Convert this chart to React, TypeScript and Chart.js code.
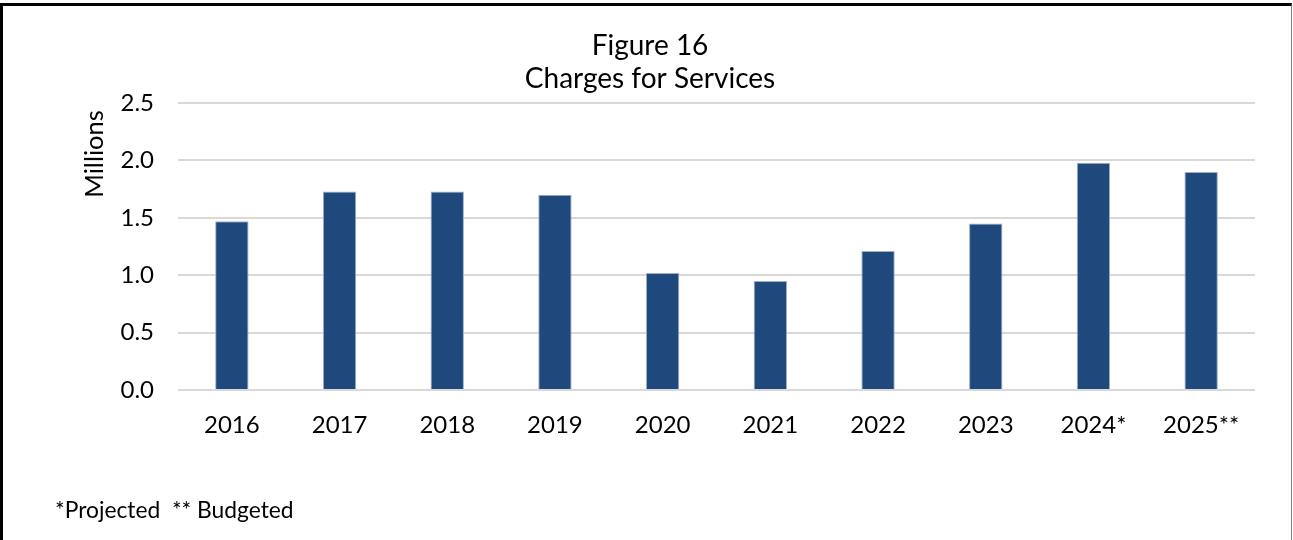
import React, { useEffect, useRef } from "react";
import { Chart, registerables } from "chart.js";

Chart.register(...registerables);

const categories = ["2016", "2017", "2018", "2019", "2020", "2021", "2022", "2023", "2024*", "2025**"];
const chargesMillions = [1.47, 1.73, 1.73, 1.70, 1.02, 0.95, 1.21, 1.45, 1.98, 1.90];
const titleLines = ["Figure 16", "Charges for Services"];
const yAxisLabel = "Millions";
const footnote = "*Projected  ** Budgeted";
const yMin = 0;
const yMax = 2.5;
const yStep = 0.5;

const FONT = "Lato, 'Open Sans', sans-serif";

const annotationsPlugin = {
  id: "annotationsText",
  afterDraw(chart: any) {
    const ctx = chart.ctx;
    ctx.save();
    ctx.fillStyle = "#000";
    ctx.textBaseline = "middle";
    ctx.textAlign = "left";
    ctx.font = `22.8px ${FONT}`;
    ctx.fillText(footnote, 55, 511);
    ctx.translate(95, 154);
    ctx.rotate(-Math.PI / 2);
    ctx.textAlign = "center";
    ctx.font = `25.5px ${FONT}`;
    ctx.fillText(yAxisLabel, 0, 0);
    ctx.restore();
  },
};

export default function App() {
  const canvasRef = useRef<HTMLCanvasElement | null>(null);

  useEffect(() => {
    if (!canvasRef.current) return;
    const chart = new Chart(canvasRef.current, {
      type: "bar",
      data: {
        labels: categories,
        datasets: [
          {
            data: chargesMillions,
            backgroundColor: "#1F497D",
            borderColor: "#9DB0C8",
            borderWidth: 1,
            borderSkipped: "bottom",
            categoryPercentage: 1,
            barPercentage: 0.31,
          },
        ],
      },
      options: {
        responsive: false,
        animation: false,
        layout: { padding: { left: 45, right: 38, top: 0, bottom: 100 } },
        plugins: {
          legend: { display: false },
          tooltip: { enabled: false },
          title: {
            display: true,
            text: titleLines,
            color: "#000",
            font: { family: FONT, size: 28, weight: "normal", lineHeight: 33 / 28 },
            padding: { top: 29, bottom: 8 },
          },
        },
        scales: {
          x: {
            grid: { display: false, drawTicks: false },
            border: { display: false },
            ticks: {
              color: "#000",
              font: { family: FONT, size: 24 },
              padding: 21,
              maxRotation: 0,
              autoSkip: false,
            },
            afterFit: (scale: any) => {
              scale.height = 50;
            },
          },
          y: {
            min: yMin,
            max: yMax,
            grid: { color: "#D9D9D9", lineWidth: 2, drawTicks: false },
            border: { display: false },
            ticks: {
              stepSize: yStep,
              color: "#000",
              font: { family: FONT, size: 24 },
              padding: 24,
              callback: (v: any) => Number(v).toFixed(1),
            },
            title: { display: false },
            afterFit: (scale: any) => {
              scale.width = 133;
            },
          },
        },
      },
      plugins: [annotationsPlugin],
    });
    return () => chart.destroy();
  }, []);

  return (
    <div
      style={{
        position: "fixed",
        left: 0,
        top: 0,
        width: 1293,
        height: 540,
        overflow: "hidden",
        background: "#fff",
      }}
    >
      <canvas ref={canvasRef} width={1293} height={540} style={{ display: "block" }} />
      <div
        style={{
          position: "absolute",
          left: 0,
          top: 3,
          width: 1293 - 3 - 2,
          height: 560,
          borderTop: "3px solid #000",
          borderLeft: "3px solid #000",
          borderRight: "1px solid #808080",
          pointerEvents: "none",
        }}
      />
    </div>
  );
}
